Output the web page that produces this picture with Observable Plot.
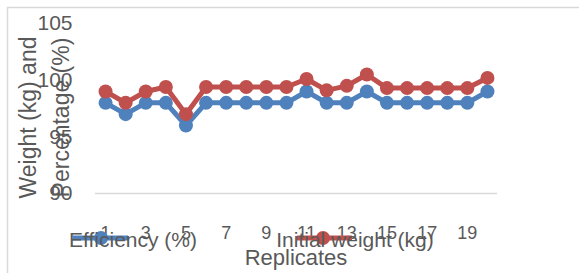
<!DOCTYPE html>
<html>
<head>
<meta charset="utf-8">
<script src="https://cdn.jsdelivr.net/npm/d3@7"></script>
<script src="https://cdn.jsdelivr.net/npm/@observablehq/plot@0.6"></script>
<style>
  html, body { margin: 0; padding: 0; background: #fff; }
  #chart { position: relative; width: 579px; height: 273px; overflow: hidden; }
</style>
</head>
<body>
<div id="chart"></div>
<script>
const replicates = [1,2,3,4,5,6,7,8,9,10,11,12,13,14,15,16,17,18,19,20];
const efficiency = [98,97,98,98,96,98,98,98,98,98,99,98,98,99,98,98,98,98,98,99];
const initialWeight = [99,98,99,99.4,97,99.4,99.4,99.4,99.4,99.4,100.1,99.1,99.5,100.5,99.3,99.3,99.3,99.3,99.3,100.2];
const xTicks = [1,3,5,7,9,11,13,15,17,19];
const yTicks = [90,95,100,105];
const seriesNames = ["Efficiency (%)", "Initial weight (kg)"];
const colors = ["#4F81BD", "#C0504D"];
const yTitle = ["Weight (kg) and", "Percentage (%)"];
const xTitle = "Replicates";

const effData = replicates.map((r, i) => ({r, v: efficiency[i]}));
const wData = replicates.map((r, i) => ({r, v: initialWeight[i]}));

const textColor = "#595959";
const font = "'Liberation Sans', Arial, sans-serif";

const plot = Plot.plot({
  width: 579,
  height: 273,
  marginLeft: 95,
  marginRight: 82,
  marginTop: 23,
  marginBottom: 80,
  style: {fontFamily: font, color: textColor, background: "transparent", overflow: "visible"},
  x: {type: "linear", domain: [0.5, 20.5]},
  y: {domain: [90, 105]},
  marks: [
    Plot.ruleY([90], {stroke: "#D9D9D9", strokeWidth: 1.5}),
    Plot.axisY({ticks: yTicks, tickSize: 0, tickPadding: 23, fontSize: 21, label: null, fill: textColor}),
    Plot.axisX({ticks: xTicks, tickSize: 0, tickPadding: 33, fontSize: 18, label: null, fill: textColor, tickFormat: d => String(d)}),
    Plot.text([yTitle[0]], {frameAnchor: "left", textAnchor: "middle", dx: -67, dy: 9, rotate: -90, fontSize: 23, fill: textColor, text: d => d}),
    Plot.text([yTitle[1]], {frameAnchor: "left", textAnchor: "middle", dx: -34, dy: 9, rotate: -90, fontSize: 23, fill: textColor, text: d => d}),
    Plot.line(effData, {x: "r", y: "v", stroke: colors[0], strokeWidth: 5}),
    Plot.dot(effData, {x: "r", y: "v", r: 7, fill: colors[0]}),
    Plot.line(wData, {x: "r", y: "v", stroke: colors[1], strokeWidth: 5}),
    Plot.dot(wData, {x: "r", y: "v", r: 7, fill: colors[1]})
  ]
});

document.getElementById("chart").appendChild(plot);

const svg = d3.select(plot);
svg.append("path")
  .attr("d", "M7.5,273 V7.5 H579")
  .attr("fill", "none").attr("stroke", "#D9D9D9").attr("stroke-width", 1.5);

const legendItems = [
  {x1: 73, x2: 128, cx: 101, tx: 133},
  {x1: 297, x2: 352, cx: 323, tx: 355}
];
legendItems.forEach((it, i) => {
  const g = svg.append("g");
  g.append("line").attr("x1", it.x1).attr("x2", it.x2).attr("y1", 238).attr("y2", 238)
    .attr("stroke", colors[i]).attr("stroke-width", 5);
  g.append("circle").attr("cx", it.cx).attr("cy", 238).attr("r", 7).attr("fill", colors[i]);
  g.append("text").attr("x", it.tx).attr("y", 247).attr("font-size", 21)
    .attr("font-family", font).attr("fill", textColor).text(seriesNames[i]);
});

svg.append("text").attr("x", 296).attr("y", 265).attr("text-anchor", "middle")
  .attr("font-size", 22).attr("font-family", font).attr("fill", textColor).text(xTitle);
</script>
</body>
</html>
